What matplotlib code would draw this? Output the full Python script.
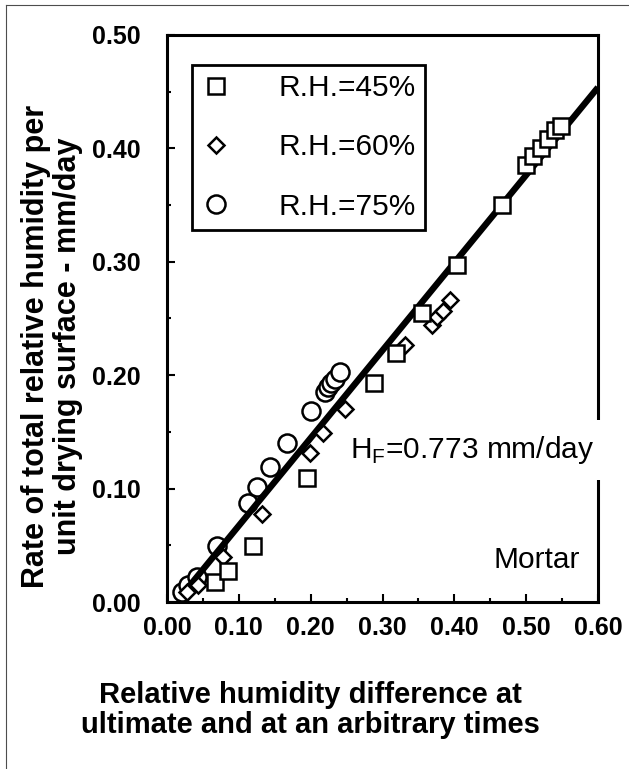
import numpy as np
import matplotlib.pyplot as plt
from matplotlib.lines import Line2D

plt.rcParams['font.family'] = ['Liberation Sans', 'DejaVu Sans']
plt.rcParams['mathtext.fontset'] = 'custom'
plt.rcParams['mathtext.rm'] = 'Liberation Sans'

# R.H. = 45 % (carres)
x45 = [0.067, 0.085, 0.120, 0.195, 0.288, 0.319, 0.355, 0.404, 0.467,
       0.500, 0.510, 0.520, 0.530, 0.540, 0.548]
y45 = [0.018, 0.027, 0.049, 0.109, 0.193, 0.220, 0.255, 0.297, 0.350,
       0.385, 0.393, 0.400, 0.408, 0.416, 0.420]

# R.H. = 60 % (losanges)
x60 = [0.028, 0.043, 0.078, 0.132, 0.199, 0.217, 0.248, 0.331,
       0.369, 0.376, 0.384, 0.394]
y60 = [0.009, 0.015, 0.040, 0.078, 0.131, 0.149, 0.170, 0.227,
       0.244, 0.251, 0.257, 0.266]

# R.H. = 75 % (cercles)
x75 = [0.021, 0.029, 0.042, 0.070, 0.113, 0.125, 0.143, 0.167, 0.200,
       0.220, 0.224, 0.229, 0.234, 0.241]
y75 = [0.009, 0.015, 0.022, 0.049, 0.087, 0.101, 0.119, 0.140, 0.168,
       0.185, 0.190, 0.193, 0.197, 0.203]

# droite de regression
pente = 0.773
ordonnee = -0.010
x_fit = np.array([0.025, 0.60])

fig = plt.figure(figsize=(6.29, 7.69), dpi=100)
ax = fig.add_axes([167/629, 1 - 602/769, 431/629, 567/769])

mk = dict(linestyle='none', markerfacecolor='white', markeredgecolor='black',
          markeredgewidth=1.8)
ax.plot(x75, y75, marker='o', markersize=13, zorder=2, **mk)
ax.plot(x_fit, pente*x_fit + ordonnee, color='black', linewidth=4.6, zorder=3,
        solid_capstyle='butt')
ax.plot(x60, y60, marker='D', markersize=8.5, zorder=4, **mk)
ax.plot(x45, y45, marker='s', markersize=12, zorder=5, **mk)

h45 = Line2D([], [], marker='s', markersize=12, **mk)
h60 = Line2D([], [], marker='D', markersize=8.5, **mk)
h75 = Line2D([], [], marker='o', markersize=13, **mk)
leg = ax.legend([h45, h60, h75], ['R.H.=45%', 'R.H.=60%', 'R.H.=75%'],
                loc='upper left', bbox_to_anchor=(25/431, 537/567),
                borderaxespad=0, fontsize=21.5, handlelength=1.0,
                handletextpad=1.6, labelspacing=1.05, borderpad=0.3,
                fancybox=False, framealpha=1, edgecolor='black')
leg.get_frame().set_linewidth(2)

ax.set_xlim(0, 0.60)
ax.set_ylim(0, 0.50)
ax.set_xticks(np.arange(0, 0.61, 0.1))
ax.set_yticks(np.arange(0, 0.51, 0.1))
ax.set_xticks(np.arange(0.05, 0.6, 0.1), minor=True)
ax.set_yticks(np.arange(0.05, 0.5, 0.1), minor=True)
ax.xaxis.set_major_formatter(plt.FormatStrFormatter('%.2f'))
ax.yaxis.set_major_formatter(plt.FormatStrFormatter('%.2f'))
ax.tick_params(which='both', direction='in', width=1.5)
ax.tick_params(which='major', length=6)
ax.tick_params(which='minor', length=3)
ax.tick_params(axis='x', which='major', pad=10, labelsize=18)
ax.tick_params(axis='y', which='major', pad=19, labelsize=18)
for lab in ax.get_xticklabels() + ax.get_yticklabels():
    lab.set_fontweight('bold')
for sp in ax.spines.values():
    sp.set_linewidth(2.2)

ax.text(0.255, 0.127, 'H$_\\mathrm{F}$=0.773 mm/day', fontsize=21.5,
        va='baseline', ha='left', zorder=6, clip_on=False,
        bbox=dict(facecolor='white', edgecolor='none', pad=10))
ax.text(0.575, 0.030, 'Mortar', fontsize=21.5, va='baseline', ha='right')

fig.text(310/629, 1 - 710/769,
         'Relative humidity difference at\nultimate and at an arbitrary times',
         fontsize=21, fontweight='bold', ha='center', va='center',
         linespacing=1.05)
fig.text(52/629, 1 - 346/769,
         'Rate of total relative humidity per\nunit drying surface - mm/day',
         fontsize=22, fontweight='bold', ha='center', va='center',
         rotation=90, linespacing=1.05)

# cadre fin autour de la figure
fig.add_artist(Line2D([6/629, 6/629], [0, 1 - 5/769], color='0.3', linewidth=0.8))
fig.add_artist(Line2D([6/629, 1], [1 - 5/769, 1 - 5/769], color='0.3', linewidth=0.8))

fig.savefig('out.png', dpi=100)
